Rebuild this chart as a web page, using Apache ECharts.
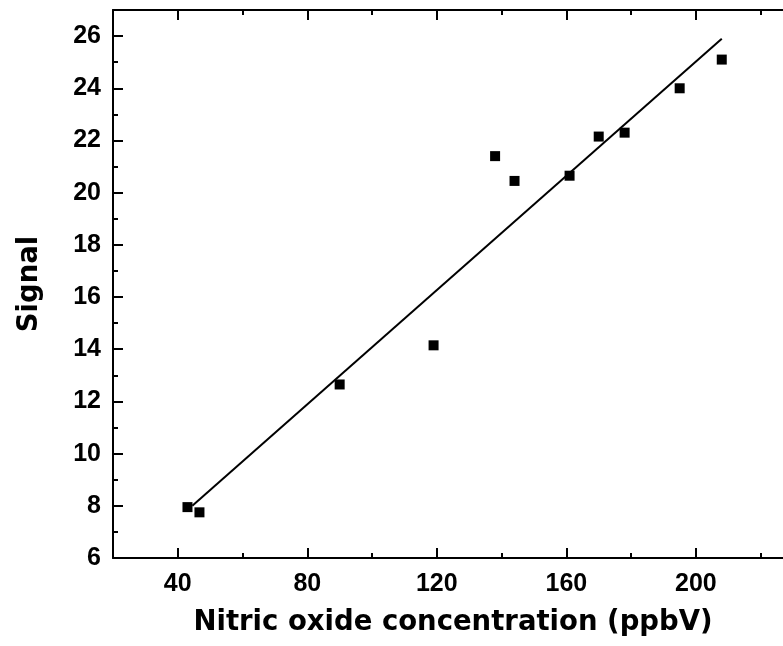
<!DOCTYPE html>
<html>
<head>
<meta charset="utf-8">
<script src="https://cdn.jsdelivr.net/npm/echarts@6/dist/echarts.min.js"></script>
<style>
  html, body { margin: 0; padding: 0; background: #ffffff; }
  #chart { width: 783px; height: 646px; }
</style>
</head>
<body>
<div id="chart"></div>
<script>
// Data
const concentration = [43, 46.7, 90, 119, 138, 144, 161, 170, 178, 195, 208];
const signal = [7.95, 7.75, 12.65, 14.15, 21.4, 20.45, 20.65, 22.15, 22.3, 24.0, 25.1];
// Linear fit line end points
const fitX = [44.5, 208];
const fitY = [8.0, 25.9];
// Tick values
const xMajorTicks = [40, 80, 120, 160, 200];
const xMinorTicks = [60, 100, 140, 180, 220];
const yMajorTicks = [6, 8, 10, 12, 14, 16, 18, 20, 22, 24, 26];
const yMinorTicks = [7, 9, 11, 13, 15, 17, 19, 21, 23, 25];
const xTitle = 'Nitric oxide concentration (ppbV)';
const yTitle = 'Signal';

const scatterData = concentration.map((x, i) => [x, signal[i]]);
const fitData = fitX.map((x, i) => [x, fitY[i]]);

const X_MIN = 20, X_MAX = 230, Y_MIN = 6, Y_MAX = 27;
const gridBox = { left: 113, top: 10, width: 680, bottom: 88, containLabel: false, outerBoundsMode: 'none' };
const lineStyle = { color: '#000', width: 2 };
const tickFont = { fontFamily: 'Liberation Sans', fontWeight: 'bold', fontSize: 25, color: '#000' };
const titleFont = { fontFamily: 'DejaVu Sans', fontWeight: 'bold', fontSize: 27.5, color: '#000' };

function xAxis(gridIndex, position, ticks, len, showLine, labels) {
  return {
    type: 'value', gridIndex, position, min: X_MIN, max: X_MAX,
    axisLine: { show: showLine, onZero: false, lineStyle },
    axisTick: { show: true, inside: true, length: len, customValues: ticks, lineStyle: { color: '#000', width: 2 } },
    axisLabel: labels ? Object.assign({ show: true, margin: 14, customValues: ticks }, tickFont) : { show: false },
    splitLine: { show: false },
    minorTick: { show: false }
  };
}
function yAxis(gridIndex, position, ticks, len, showLine, labels) {
  return {
    type: 'value', gridIndex, position, min: Y_MIN, max: Y_MAX,
    axisLine: { show: showLine, onZero: false, lineStyle },
    axisTick: { show: true, inside: true, length: len, customValues: ticks, lineStyle: { color: '#000', width: 2 } },
    axisLabel: labels ? Object.assign({ show: true, margin: 12, customValues: ticks }, tickFont) : { show: false },
    splitLine: { show: false }
  };
}

const xa0 = xAxis(0, 'bottom', xMajorTicks, 10, true, true);
xa0.name = xTitle; xa0.nameLocation = 'middle'; xa0.nameGap = 51; xa0.nameTextStyle = titleFont;
const ya0 = yAxis(0, 'left', yMajorTicks, 10, true, true);
ya0.name = yTitle; ya0.nameLocation = 'middle'; ya0.nameGap = 69; ya0.nameTextStyle = titleFont;

const option = {
  backgroundColor: '#ffffff',
  animation: false,
  grid: [gridBox, gridBox],
  xAxis: [
    xa0,
    xAxis(0, 'top', xMajorTicks, 10, true, false),
    xAxis(1, 'bottom', xMinorTicks, 5, false, false),
    xAxis(1, 'top', xMinorTicks, 5, false, false)
  ],
  yAxis: [
    ya0,
    yAxis(0, 'right', yMajorTicks, 10, true, false),
    yAxis(1, 'left', yMinorTicks, 5, false, false),
    yAxis(1, 'right', yMinorTicks, 5, false, false)
  ],
  series: [
    {
      type: 'line', xAxisIndex: 0, yAxisIndex: 0,
      data: fitData, showSymbol: false, symbol: 'none',
      lineStyle: { color: '#000', width: 2 }, z: 2
    },
    {
      type: 'scatter', xAxisIndex: 0, yAxisIndex: 0,
      data: scatterData, symbol: 'rect', symbolSize: 10,
      itemStyle: { color: '#000', opacity: 1 }, z: 3
    }
  ]
};

const chart = echarts.init(document.getElementById('chart'), null, { renderer: 'canvas' });
chart.setOption(option);
</script>
</body>
</html>
